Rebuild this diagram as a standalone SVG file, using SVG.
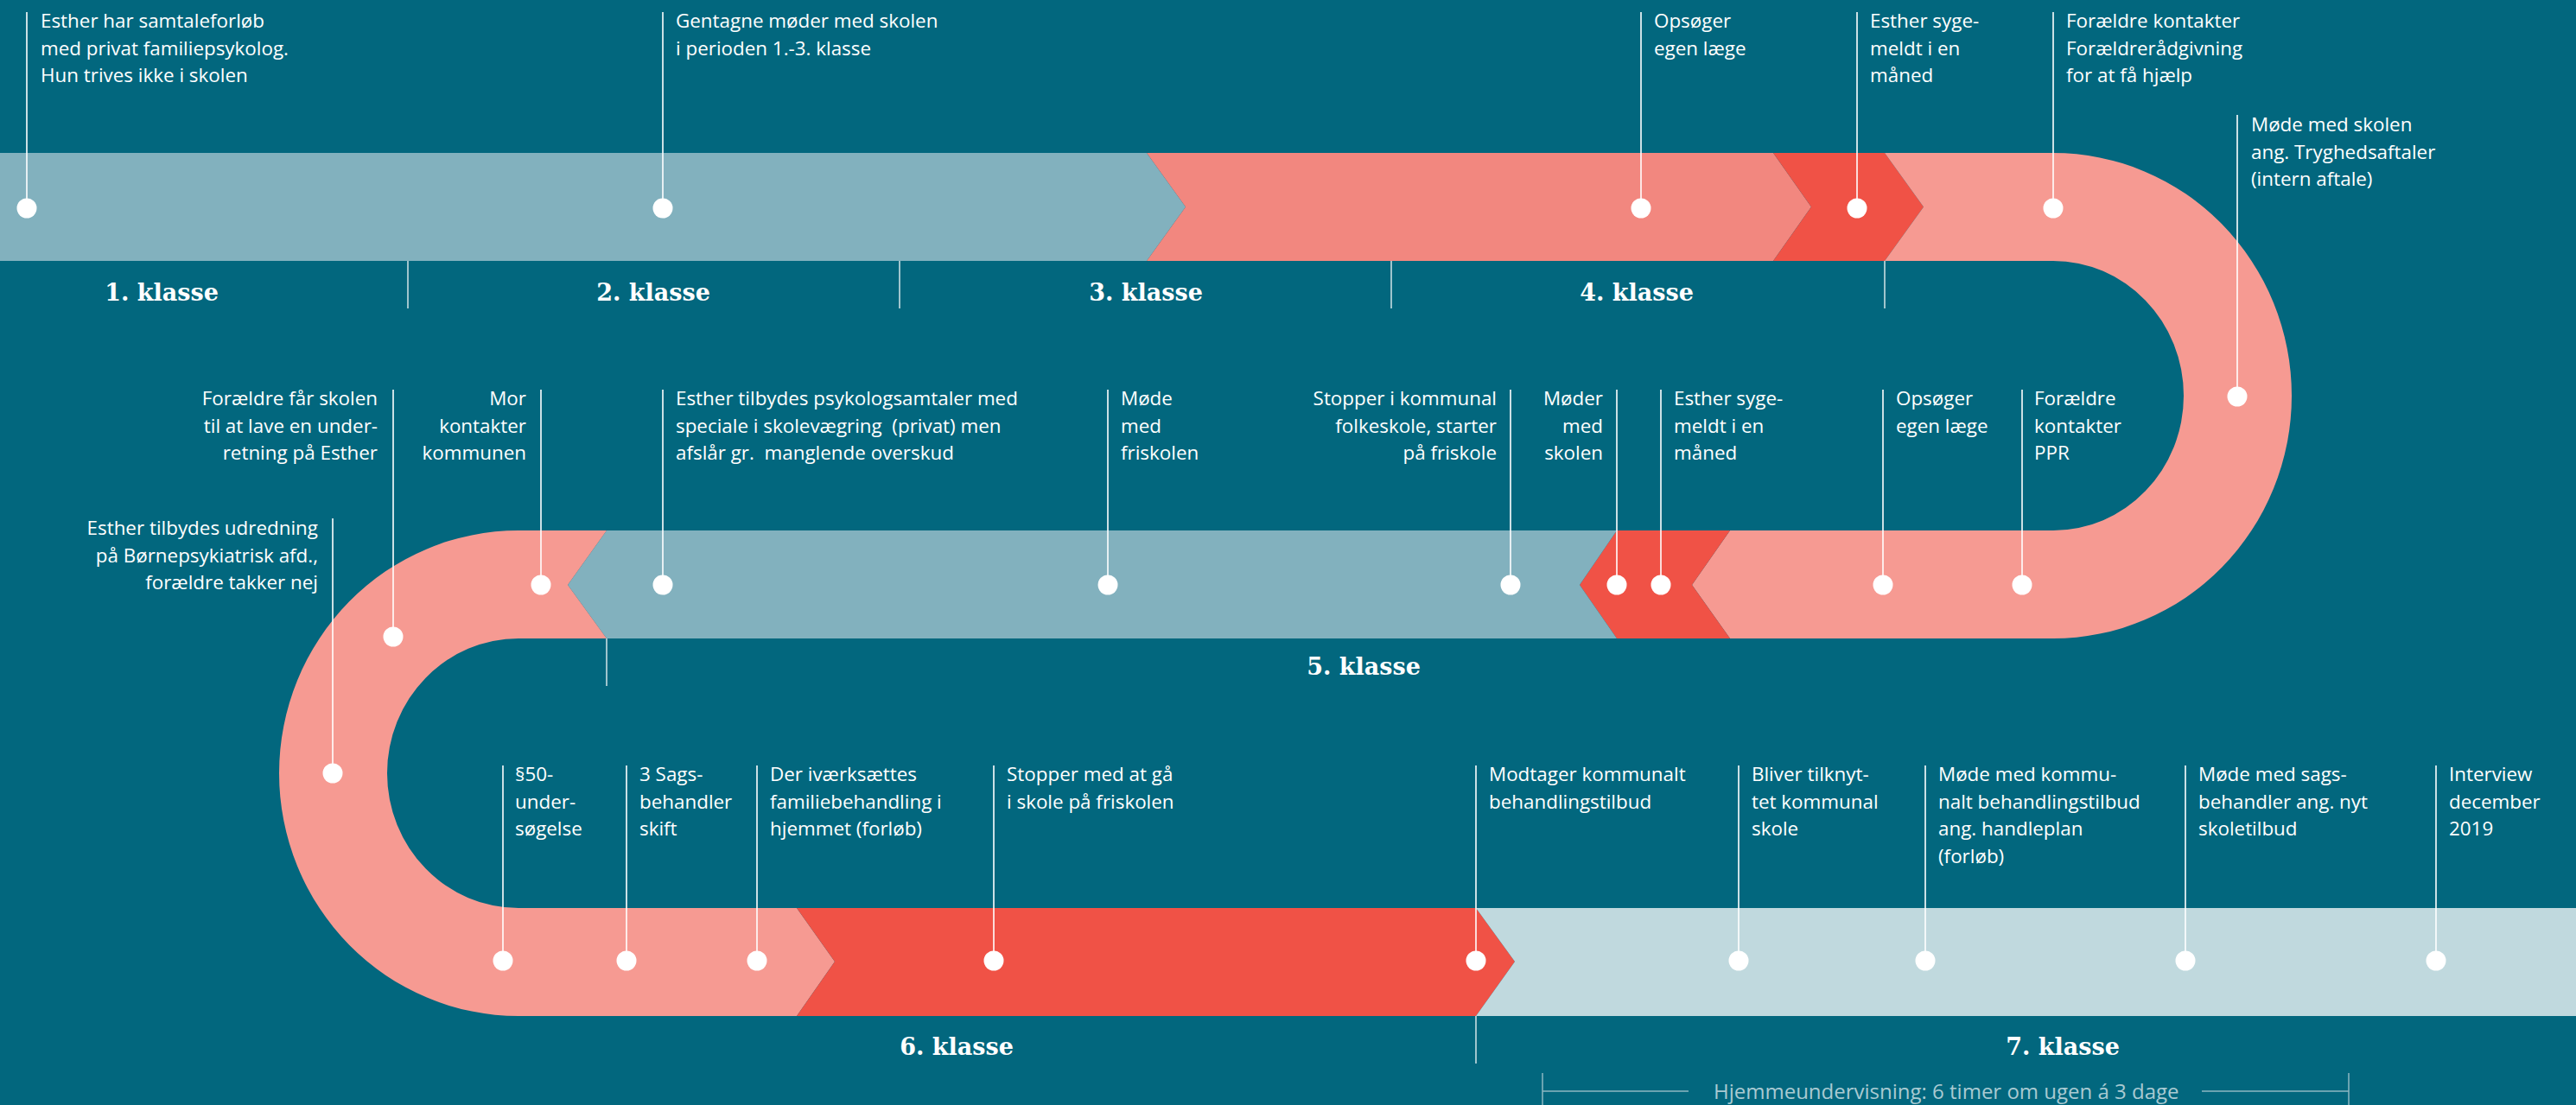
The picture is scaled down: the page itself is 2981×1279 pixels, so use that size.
<svg xmlns="http://www.w3.org/2000/svg" width="2981" height="1279" viewBox="0 0 2981 1279">
<style>
.lbl{font-family:"Open Sans","Liberation Sans",sans-serif;font-size:22.4px;fill:#ffffff;}
.end{text-anchor:end;}
.cls{font-family:"DejaVu Serif","Liberation Serif",serif;font-weight:bold;font-size:27px;fill:#ffffff;text-anchor:middle;}
.lead{stroke:#ffffff;stroke-width:1.6;fill:none;}
.div{stroke:#d5e5e9;stroke-width:1.5;}
.dot{fill:#ffffff;}
.brk{stroke:#8db8c2;stroke-width:1.5;fill:none;}
.brt{font-family:"Open Sans","Liberation Sans",sans-serif;font-size:24px;fill:#a9cad2;}
</style>
<rect x="0" y="0" width="2981" height="1279" fill="#02677e"/>
<g id="track">
<path d="M0,177 L1327,177 L1372,239.5 L1327,302 L0,302 Z" fill="#82b1be"/>
<path d="M1327,177 L2052,177 L2096,239.5 L2052,302 L1327,302 L1372,239.5 Z" fill="#f2877f"/>
<path d="M2052,177 L2181,177 L2226,239.5 L2181,302 L2052,302 L2096,239.5 Z" fill="#f05246"/>
<path d="M2181,177 L2376,177 A276,281 0 0 1 2376,739 L2002,739 L1958,677 L2002,614 L2376,614 A151,156 0 0 0 2376,302 L2181,302 L2226,239.5 Z" fill="#f69a92"/>
<path d="M1871,614 L2002,614 L1958,677 L2002,739 L1871,739 L1828,677 Z" fill="#f05246"/>
<path d="M702,614 L1871,614 L1828,677 L1871,739 L702,739 L657,677 Z" fill="#82b1be"/>
<path d="M702,614 L600,614 A277,281 0 0 0 600,1176 L922,1176 L966,1113 L922,1051 L600,1051 A152,156 0 0 1 600,739 L702,739 L657,677 Z" fill="#f69a92"/>
<path d="M922,1051 L1708,1051 L1753,1113 L1708,1176 L922,1176 L966,1113 Z" fill="#f05246"/>
<path d="M1708,1051 L2981,1051 L2981,1176 L1708,1176 L1753,1113 Z" fill="#c0d9de"/>
</g>
<g id="dividers">
<line class="div" x1="472" y1="302" x2="472" y2="357"/>
<line class="div" x1="1041" y1="302" x2="1041" y2="357"/>
<line class="div" x1="1610" y1="302" x2="1610" y2="357"/>
<line class="div" x1="2181" y1="302" x2="2181" y2="357"/>
<line class="div" x1="702" y1="739" x2="702" y2="794"/>
<line class="div" x1="1708" y1="1176" x2="1708" y2="1231"/>
</g>
<g id="class-labels">
<text class="cls" x="187" y="348">1. klasse</text>
<text class="cls" x="756" y="348">2. klasse</text>
<text class="cls" x="1326" y="348">3. klasse</text>
<text class="cls" x="1894" y="348">4. klasse</text>
<text class="cls" x="1578" y="781">5. klasse</text>
<text class="cls" x="1107" y="1221">6. klasse</text>
<text class="cls" x="2387" y="1221">7. klasse</text>
</g>
<g id="connectors">
<line class="lead" x1="31" y1="14" x2="31" y2="241"/>
<line class="lead" x1="767" y1="14" x2="767" y2="241"/>
<line class="lead" x1="1899" y1="14" x2="1899" y2="241"/>
<line class="lead" x1="2149" y1="14" x2="2149" y2="241"/>
<line class="lead" x1="2376" y1="14" x2="2376" y2="241"/>
<line class="lead" x1="2589" y1="133" x2="2589" y2="459"/>
<line class="lead" x1="455" y1="451" x2="455" y2="737"/>
<line class="lead" x1="626" y1="451" x2="626" y2="677"/>
<line class="lead" x1="767" y1="451" x2="767" y2="677"/>
<line class="lead" x1="1282" y1="451" x2="1282" y2="677"/>
<line class="lead" x1="1748" y1="451" x2="1748" y2="677"/>
<line class="lead" x1="1871" y1="451" x2="1871" y2="677"/>
<line class="lead" x1="1922" y1="451" x2="1922" y2="677"/>
<line class="lead" x1="2179" y1="451" x2="2179" y2="677"/>
<line class="lead" x1="2340" y1="451" x2="2340" y2="677"/>
<line class="lead" x1="385" y1="600" x2="385" y2="895"/>
<line class="lead" x1="582" y1="886" x2="582" y2="1112"/>
<line class="lead" x1="725" y1="886" x2="725" y2="1112"/>
<line class="lead" x1="876" y1="886" x2="876" y2="1112"/>
<line class="lead" x1="1150" y1="886" x2="1150" y2="1112"/>
<line class="lead" x1="1708" y1="886" x2="1708" y2="1112"/>
<line class="lead" x1="2012" y1="886" x2="2012" y2="1112"/>
<line class="lead" x1="2228" y1="886" x2="2228" y2="1112"/>
<line class="lead" x1="2529" y1="886" x2="2529" y2="1112"/>
<line class="lead" x1="2819" y1="886" x2="2819" y2="1112"/>
</g>
<g id="e1"><circle class="dot" cx="31" cy="241" r="11.5"/><text class="lbl" x="47" y="32">Esther har samtaleforløb<tspan x="47" dy="31.5">med privat familiepsykolog.</tspan><tspan x="47" dy="31.5">Hun trives ikke i skolen</tspan></text></g>
<g id="e2"><circle class="dot" cx="767" cy="241" r="11.5"/><text class="lbl" x="782" y="32">Gentagne møder med skolen<tspan x="782" dy="31.5">i perioden 1.-3. klasse</tspan></text></g>
<g id="e3"><circle class="dot" cx="1899" cy="241" r="11.5"/><text class="lbl" x="1914" y="32">Opsøger<tspan x="1914" dy="31.5">egen læge</tspan></text></g>
<g id="e4"><circle class="dot" cx="2149" cy="241" r="11.5"/><text class="lbl" x="2164" y="32">Esther syge-<tspan x="2164" dy="31.5">meldt i en</tspan><tspan x="2164" dy="31.5">måned</tspan></text></g>
<g id="e5"><circle class="dot" cx="2376" cy="241" r="11.5"/><text class="lbl" x="2391" y="32">Forældre kontakter<tspan x="2391" dy="31.5">Forældrerådgivning</tspan><tspan x="2391" dy="31.5">for at få hjælp</tspan></text></g>
<g id="e6"><circle class="dot" cx="2589" cy="459" r="11.5"/><text class="lbl" x="2605" y="152">Møde med skolen<tspan x="2605" dy="31.5">ang. Tryghedsaftaler</tspan><tspan x="2605" dy="31.5">(intern aftale)</tspan></text></g>
<g id="e7"><circle class="dot" cx="2340" cy="677" r="11.5"/><text class="lbl" x="2354" y="469">Forældre<tspan x="2354" dy="31.5">kontakter</tspan><tspan x="2354" dy="31.5">PPR</tspan></text></g>
<g id="e8"><circle class="dot" cx="2179" cy="677" r="11.5"/><text class="lbl" x="2194" y="469">Opsøger<tspan x="2194" dy="31.5">egen læge</tspan></text></g>
<g id="e9"><circle class="dot" cx="1922" cy="677" r="11.5"/><text class="lbl" x="1937" y="469">Esther syge-<tspan x="1937" dy="31.5">meldt i en</tspan><tspan x="1937" dy="31.5">måned</tspan></text></g>
<g id="e10"><circle class="dot" cx="1871" cy="677" r="11.5"/><text class="lbl end" x="1855" y="469">Møder<tspan x="1855" dy="31.5">med</tspan><tspan x="1855" dy="31.5">skolen</tspan></text></g>
<g id="e11"><circle class="dot" cx="1748" cy="677" r="11.5"/><text class="lbl end" x="1732" y="469">Stopper i kommunal<tspan x="1732" dy="31.5">folkeskole, starter</tspan><tspan x="1732" dy="31.5">på friskole</tspan></text></g>
<g id="e12"><circle class="dot" cx="1282" cy="677" r="11.5"/><text class="lbl" x="1297" y="469">Møde<tspan x="1297" dy="31.5">med</tspan><tspan x="1297" dy="31.5">friskolen</tspan></text></g>
<g id="e13"><circle class="dot" cx="767" cy="677" r="11.5"/><text class="lbl" x="782" y="469" xml:space="preserve">Esther tilbydes psykologsamtaler med<tspan x="782" dy="31.5">speciale i skolevægring  (privat) men</tspan><tspan x="782" dy="31.5">afslår gr.  manglende overskud</tspan></text></g>
<g id="e14"><circle class="dot" cx="626" cy="677" r="11.5"/><text class="lbl end" x="609" y="469">Mor<tspan x="609" dy="31.5">kontakter</tspan><tspan x="609" dy="31.5">kommunen</tspan></text></g>
<g id="e15"><circle class="dot" cx="455" cy="737" r="11.5"/><text class="lbl end" x="437" y="469">Forældre får skolen<tspan x="437" dy="31.5">til at lave en under-</tspan><tspan x="437" dy="31.5">retning på Esther</tspan></text></g>
<g id="e16"><circle class="dot" cx="385" cy="895" r="11.5"/><text class="lbl end" x="368" y="619">Esther tilbydes udredning<tspan x="368" dy="31.5">på Børnepsykiatrisk afd.,</tspan><tspan x="368" dy="31.5">forældre takker nej</tspan></text></g>
<g id="e17"><circle class="dot" cx="582" cy="1112" r="11.5"/><text class="lbl" x="596" y="904">§50-<tspan x="596" dy="31.5">under-</tspan><tspan x="596" dy="31.5">søgelse</tspan></text></g>
<g id="e18"><circle class="dot" cx="725" cy="1112" r="11.5"/><text class="lbl" x="740" y="904">3 Sags-<tspan x="740" dy="31.5">behandler</tspan><tspan x="740" dy="31.5">skift</tspan></text></g>
<g id="e19"><circle class="dot" cx="876" cy="1112" r="11.5"/><text class="lbl" x="891" y="904">Der iværksættes<tspan x="891" dy="31.5">familiebehandling i</tspan><tspan x="891" dy="31.5">hjemmet (forløb)</tspan></text></g>
<g id="e20"><circle class="dot" cx="1150" cy="1112" r="11.5"/><text class="lbl" x="1165" y="904">Stopper med at gå<tspan x="1165" dy="31.5">i skole på friskolen</tspan></text></g>
<g id="e21"><circle class="dot" cx="1708" cy="1112" r="11.5"/><text class="lbl" x="1723" y="904">Modtager kommunalt<tspan x="1723" dy="31.5">behandlingstilbud</tspan></text></g>
<g id="e22"><circle class="dot" cx="2012" cy="1112" r="11.5"/><text class="lbl" x="2027" y="904">Bliver tilknyt-<tspan x="2027" dy="31.5">tet kommunal</tspan><tspan x="2027" dy="31.5">skole</tspan></text></g>
<g id="e23"><circle class="dot" cx="2228" cy="1112" r="11.5"/><text class="lbl" x="2243" y="904">Møde med kommu-<tspan x="2243" dy="31.5">nalt behandlingstilbud</tspan><tspan x="2243" dy="31.5">ang. handleplan</tspan><tspan x="2243" dy="31.5">(forløb)</tspan></text></g>
<g id="e24"><circle class="dot" cx="2529" cy="1112" r="11.5"/><text class="lbl" x="2544" y="904">Møde med sags-<tspan x="2544" dy="31.5">behandler ang. nyt</tspan><tspan x="2544" dy="31.5">skoletilbud</tspan></text></g>
<g id="e25"><circle class="dot" cx="2819" cy="1112" r="11.5"/><text class="lbl" x="2834" y="904">Interview<tspan x="2834" dy="31.5">december</tspan><tspan x="2834" dy="31.5">2019</tspan></text></g>
<g id="homeschool">
<path class="brk" d="M1785,1242 L1785,1279 M1785,1263 L1954,1263 M2548,1263 L2718,1263 M2718,1242 L2718,1279"/>
<text class="brt" x="1983" y="1272">Hjemmeundervisning: 6 timer om ugen á 3 dage</text>
</g>
</svg>
